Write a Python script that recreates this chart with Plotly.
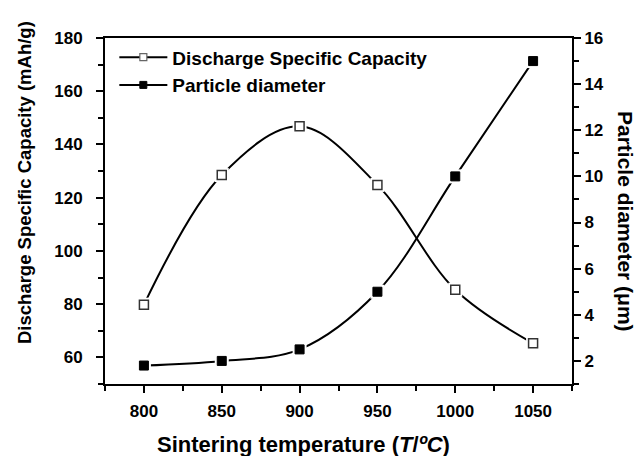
import plotly.graph_objects as go

temps = [800, 850, 900, 950, 1000, 1050]
capacity = [79.8, 128.5, 146.8, 124.8, 85.4, 65.3]
diameter = [1.8, 2.0, 2.5, 5.0, 10.0, 15.0]

FONT = "Liberation Sans, Arial, sans-serif"
fig = go.Figure()

# lines
fig.add_trace(go.Scatter(x=temps, y=capacity, mode="lines", line=dict(color="black", width=2, shape="spline"),
                         showlegend=False, hoverinfo="skip"))
fig.add_trace(go.Scatter(x=temps, y=diameter, mode="lines", line=dict(color="black", width=2, shape="spline"),
                         showlegend=False, hoverinfo="skip", yaxis="y2"))
# white gaps around markers
fig.add_trace(go.Scatter(x=temps, y=capacity, mode="markers", marker=dict(symbol="square", size=14, color="white"),
                         showlegend=False, hoverinfo="skip"))
fig.add_trace(go.Scatter(x=temps, y=diameter, mode="markers", marker=dict(symbol="square", size=14, color="white"),
                         showlegend=False, hoverinfo="skip", yaxis="y2"))
# markers
fig.add_trace(go.Scatter(x=temps, y=capacity, mode="markers", showlegend=False,
                         marker=dict(symbol="square", size=9, color="white", line=dict(color="#333", width=1.5))))
fig.add_trace(go.Scatter(x=temps, y=diameter, mode="markers", yaxis="y2", showlegend=False,
                         marker=dict(symbol="square", size=9, color="black", line=dict(color="black", width=1))))
# legend entries
fig.add_trace(go.Scatter(x=[None], y=[None], mode="lines+markers", name="Discharge Specific Capacity",
                         line=dict(color="black", width=2),
                         marker=dict(symbol="square", size=7, color="white", line=dict(color="#666", width=1.2))))
fig.add_trace(go.Scatter(x=[None], y=[None], mode="lines+markers", name="Particle diameter",
                         line=dict(color="black", width=2),
                         marker=dict(symbol="square", size=7, color="black", line=dict(color="black", width=1))))

axis_common = dict(showline=True, linecolor="black", linewidth=2, ticks="outside", tickwidth=2,
                   ticklen=7, tickcolor="black", showgrid=False, zeroline=False,
                   tickfont=dict(family=FONT, size=17, color="black", weight="bold"))

fig.update_layout(
    width=641, height=456,
    margin=dict(l=105, r=69, t=38, b=72),
    paper_bgcolor="white", plot_bgcolor="white",
    font=dict(family=FONT, color="black"),
    xaxis=dict(range=[775, 1075], dtick=50, tick0=800, mirror=True, ticklabelstandoff=4,
               minor=dict(dtick=25, tick0=800, ticks="outside", ticklen=5, tickwidth=2, tickcolor="black"),
               **axis_common),
    yaxis=dict(range=[50, 180], dtick=20, tick0=60, ticklabelstandoff=10,
               minor=dict(dtick=10, ticks="outside", ticklen=5, tickwidth=2, tickcolor="black"),
               **axis_common),
    yaxis2=dict(range=[1, 16], dtick=2, tick0=2, overlaying="y", side="right",
                minor=dict(dtick=1, ticks="outside", ticklen=5, tickwidth=2, tickcolor="black"),
                **axis_common),
    legend=dict(x=0.02, y=0.999, xanchor="left", yanchor="top", bgcolor="rgba(0,0,0,0)",
                font=dict(family=FONT, size=19, color="black", weight="bold"), tracegroupgap=2,
                itemwidth=48),
    annotations=[
        dict(text="Particle diameter (μm)", textangle=90, xref="paper", yref="paper",
             x=1.0, y=0.5, xanchor="center", yanchor="middle", xshift=54, yshift=-10, showarrow=False,
             font=dict(family=FONT, size=21, color="black", weight="bold")),
        dict(text="Discharge Specific Capacity (mAh/g)", textangle=-90, xref="paper", yref="paper",
             x=0.0, y=0.5, xanchor="center", yanchor="middle", xshift=-81, yshift=28, showarrow=False,
             font=dict(family=FONT, size=18.5, color="black", weight="bold")),
        dict(text="Sintering temperature (<i>T</i>/<i>ºC</i>)", xref="paper", yref="paper",
             x=0.426, y=0.0, xanchor="center", yanchor="middle", yshift=-60, showarrow=False,
             font=dict(family=FONT, size=22, color="black", weight="bold")),
    ],
)

fig.write_html("out.html")
